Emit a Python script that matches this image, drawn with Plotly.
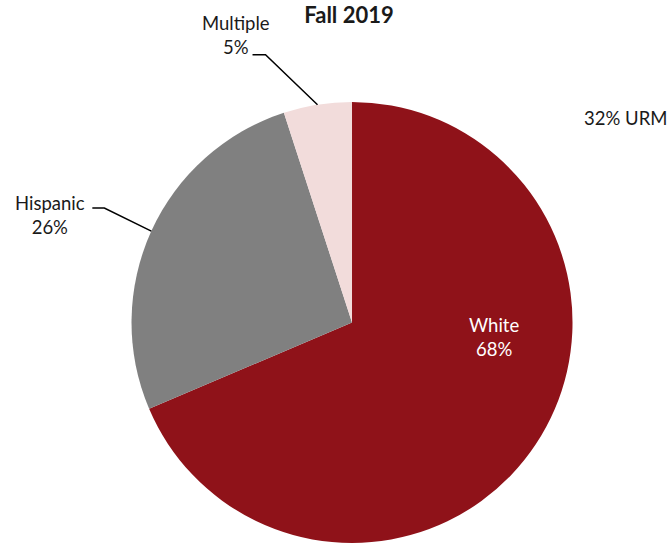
import math
import plotly.graph_objects as go

labels = ["White", "Hispanic", "Multiple"]
values = [68.6, 26.4, 5.0]
shown_pct = ["68%", "26%", "5%"]
colors = ["#8F1219", "#808080", "#F2DCDB"]

W, H = 670, 543
FONT = "Lato"
FS = 18.5

# pie geometry in paper coords
dom_y = [0.0, 0.8122]
dom_x = [0.1963, 0.8545]
cx_px = (dom_x[0] + dom_x[1]) / 2 * W
cy_px = (1 - (dom_y[0] + dom_y[1]) / 2) * H
r_px = (dom_y[1] - dom_y[0]) * H / 2

fig = go.Figure(go.Pie(
    labels=labels, values=values, sort=False, direction="clockwise", rotation=0,
    marker=dict(colors=colors, line=dict(width=0)),
    textinfo="none", hoverinfo="label+percent",
    domain=dict(x=dom_x, y=dom_y), showlegend=False,
))

def px(x, y):
    return x / W, 1 - y / H

# outside labels: (diag dx, diag dy, horizontal run, text dx, text dy) in px
leader = {
    "Multiple": (-52, -50, -13, -17, -20),
    "Hispanic": (-47, -23, -12, -42, 7),
}
total = sum(values)
cum = 0
for lab, v, pct in zip(labels, values, shown_pct):
    mid = (cum + v / 2) / total * 2 * math.pi
    cum += v
    if lab not in leader:
        continue
    dx, dy, hx, tdx, tdy = leader[lab]
    x0 = cx_px + r_px * math.sin(mid)
    y0 = cy_px - r_px * math.cos(mid)
    x1, y1 = x0 + dx, y0 + dy
    x2 = x1 + hx
    p0, p1, p2 = px(x0, y0), px(x1, y1), px(x2, y1)
    fig.add_shape(type="path", xref="paper", yref="paper",
                  path=f"M {p0[0]} {p0[1]} L {p1[0]} {p1[1]} L {p2[0]} {p2[1]}",
                  line=dict(color="black", width=1.5))
    tx, ty = px(x2 + tdx, y1 + tdy)
    fig.add_annotation(x=tx, y=ty, xref="paper", yref="paper", xanchor="center",
                       yanchor="middle", showarrow=False, align="center",
                       text=f"{lab}<br>{pct}", font=dict(size=FS, color="#1a1a1a", family=FONT))

fig.add_annotation(x=494 / W, y=1 - 337 / H, xref="paper", yref="paper",
                   xanchor="center", yanchor="middle",
                   showarrow=False, align="center", text="White<br>68%",
                   font=dict(size=FS, color="white", family=FONT))

fig.add_annotation(x=625 / W, y=1 - 118 / H, xref="paper", yref="paper",
                   xanchor="center", yanchor="middle",
                   showarrow=False, text="32% URM",
                   font=dict(size=FS, color="#1a1a1a", family=FONT))

fig.update_layout(
    width=W, height=H,
    margin=dict(l=0, r=0, t=0, b=0),
    paper_bgcolor="white", plot_bgcolor="white",
    title=dict(text="<b>Fall 2019</b>", x=349 / W, xanchor="center",
               y=1 - 15 / H, yanchor="middle",
               font=dict(size=22, color="#1a1a1a", family=FONT)),
)

fig.write_html("out.html", config={"displayModeBar": False},
               post_script="document.body.style.margin='0';")
